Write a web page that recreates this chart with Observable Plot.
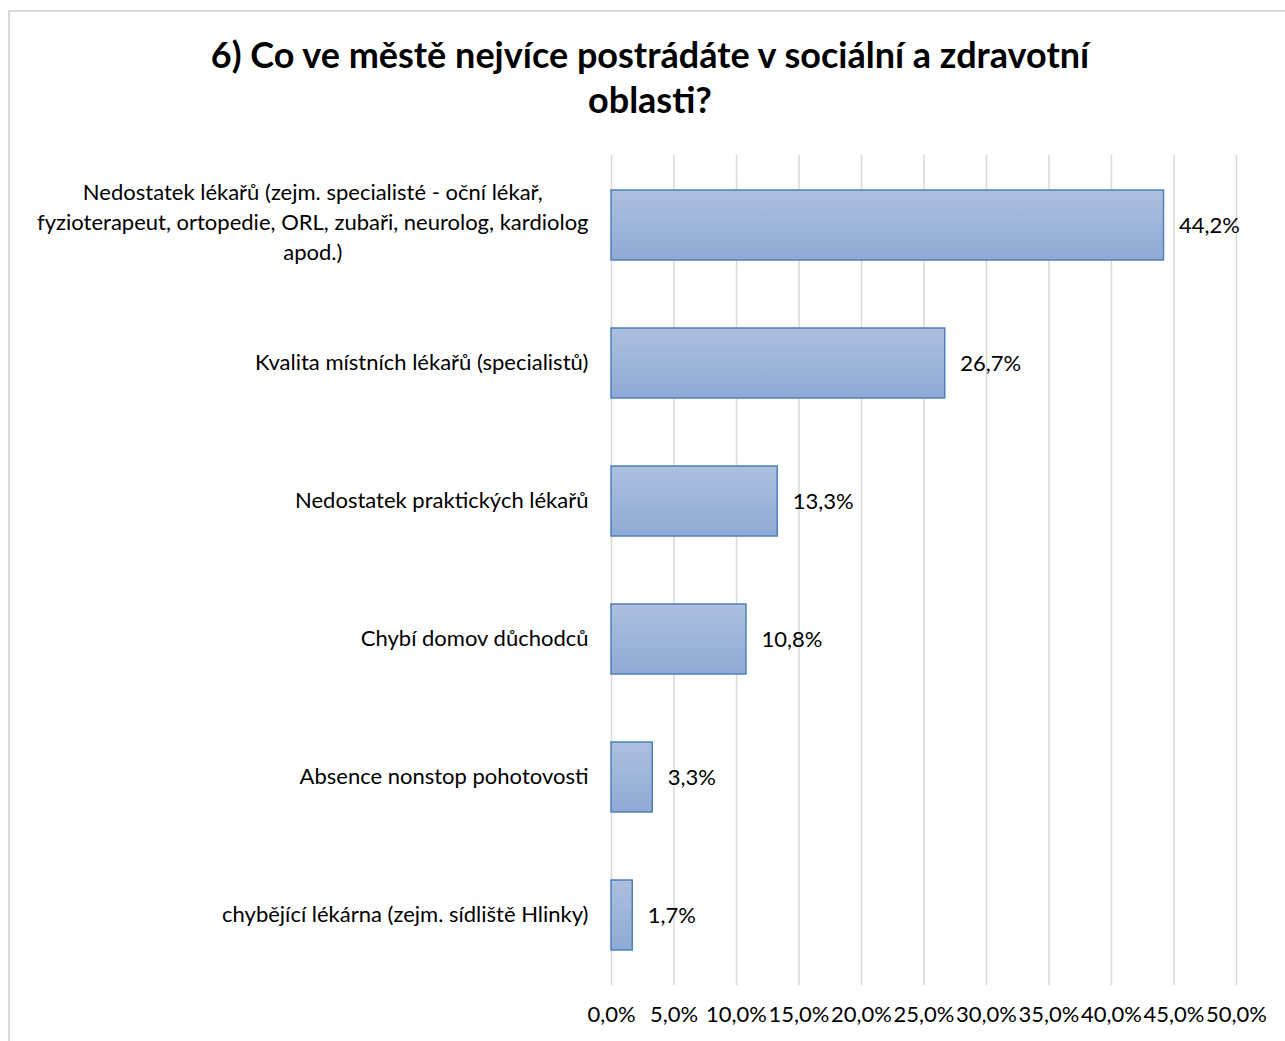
<!DOCTYPE html>
<html><head><meta charset="utf-8">
<script src="https://cdn.jsdelivr.net/npm/d3@7"></script>
<script src="https://cdn.jsdelivr.net/npm/@observablehq/plot@0.6"></script>
<style>
body{margin:0;background:#fff;width:1285px;height:1041px;overflow:hidden;position:relative;font-family:Lato,"Open Sans",sans-serif;}
#frame{position:absolute;left:8px;top:10px;width:1290px;height:1060px;border:2px solid #d9d9d9;box-sizing:border-box}
#title{position:absolute;left:0;width:1300px;top:32px;text-align:center;font-weight:bold;font-size:36px;line-height:45px;color:#000;white-space:nowrap}
#chart{position:absolute;left:0;top:140px}
</style></head><body>
<div id="frame"></div>
<div id="title">6) Co ve městě nejvíce postrádáte v sociální a zdravotní<br>oblasti?</div>
<div id="chart"></div>
<script>
const categories = [
  "Nedostatek lékařů (zejm. specialisté - oční lékař,\nfyzioterapeut, ortopedie, ORL, zubaři, neurolog, kardiolog\napod.)",
  "Kvalita místních lékařů (specialistů)",
  "Nedostatek praktických lékařů",
  "Chybí domov důchodců",
  "Absence nonstop pohotovosti",
  "chybějící lékárna (zejm. sídliště Hlinky)"
];
const values = [44.2, 26.7, 13.3, 10.8, 3.3, 1.7];
const xTicks = [0, 5, 10, 15, 20, 25, 30, 35, 40, 45, 50];

const data = categories.map((c, i) => ({category: c, value: values[i]}));
const fmt = v => v.toFixed(1).replace(".", ",") + "%";

const FONT = "Lato";
const labelSize = 22;

// measure widest line of multi-line label to center lines within a right-aligned block
const canvas = document.createElement("canvas");
const ctx = canvas.getContext("2d");
ctx.font = `${labelSize}px ${FONT}`;
const multi = data.filter(d => d.category.includes("\n"));
const single = data.filter(d => !d.category.includes("\n"));

const gradMark = () => {
  const ns = "http://www.w3.org/2000/svg";
  const defs = document.createElementNS(ns, "defs");
  const lg = document.createElementNS(ns, "linearGradient");
  lg.setAttribute("id", "barGrad");
  lg.setAttribute("x1", "0"); lg.setAttribute("y1", "0");
  lg.setAttribute("x2", "0"); lg.setAttribute("y2", "1");
  [["0%", "#adbfdf"], ["100%", "#8eaad5"]].forEach(([o, c]) => {
    const s = document.createElementNS(ns, "stop");
    s.setAttribute("offset", o); s.setAttribute("stop-color", c);
    lg.appendChild(s);
  });
  defs.appendChild(lg);
  return defs;
};

const marks = [
  gradMark,
  Plot.ruleX(xTicks, {stroke: "#d9d9d9", strokeWidth: 1.5}),
  Plot.barX(data, {x: "value", y: "category", fill: "url(#barGrad)", stroke: "#4f81bd", strokeWidth: 1.5}),
  Plot.text(data, {x: "value", y: "category", text: d => fmt(d.value), textAnchor: "start", dx: 15, fontSize: labelSize, fill: "#000"}),
  Plot.text(single, {x: 0, y: "category", text: "category", textAnchor: "end", dx: -23, dy: -1, fontSize: labelSize, fill: "#000"}),
  Plot.axisX(xTicks, {tickSize: 0, tickPadding: 21, tickFormat: fmt, fontSize: labelSize, fill: "#000"}),
  Plot.axisY({ticks: [], tickSize: 0, label: null})
];
multi.forEach(d => {
  const w = d3.max(d.category.split("\n"), l => ctx.measureText(l).width);
  marks.push(Plot.text([d], {x: 0, y: "category", text: "category", textAnchor: "middle", dx: -23 - w / 2, dy: -5, fontSize: labelSize, lineHeight: 30 / labelSize, fill: "#000"}));
});

const chart = Plot.plot({
  width: 1285,
  height: 901,
  marginLeft: 611,
  marginRight: 49,
  marginTop: 15,
  marginBottom: 56,
  style: {fontFamily: FONT, fontSize: labelSize + "px", color: "#000", background: "transparent"},
  x: {domain: [0, 50], label: null},
  y: {domain: categories, paddingInner: 0.495, paddingOuter: 0.2475, label: null, axis: null},
  marks
});
document.getElementById("chart").appendChild(chart);
</script>
</body></html>
